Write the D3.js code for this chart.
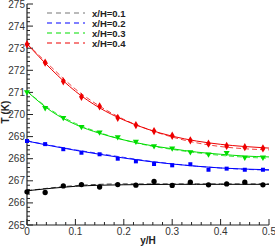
<!DOCTYPE html>
<html>
<head>
<meta charset="utf-8">
<script src="https://cdn.jsdelivr.net/npm/d3@7"></script>
<style>
  body { margin: 0; background: #fff; }
  text { font-family: "Liberation Sans", Arial, sans-serif; }
</style>
</head>
<body>
<div id="chart"></div>
<script>
// series labels and colours
var seriesNames = ["x/H=0.1", "x/H=0.2", "x/H=0.3", "x/H=0.4"];
var seriesColors = ["#000000", "#0000ff", "#00dd00", "#ee0000"];
var legendColors = ["#777777", "#0000ff", "#00dd00", "#ee0000"];

// measured points (symbols)
var markX = [0, 0.0375, 0.075, 0.1125, 0.15, 0.1875, 0.225, 0.2625, 0.3, 0.3375, 0.375, 0.4125, 0.45, 0.4875];
var mark01 = [266.5, 266.47, 266.77, 266.83, 266.72, 266.83, 266.8, 266.97, 266.79, 266.94, 266.82, 266.86, 266.94, 266.82];
var mark02 = [268.8, 268.66, 268.43, 268.27, 268.2, 268.0, 267.88, 267.76, 267.7, 267.75, 267.5, 267.55, 267.5, 267.5];
var mark03 = [271.02, 270.3, 269.85, 269.45, 269.2, 268.98, 268.78, 268.58, 268.47, 268.3, 268.2, 268.27, 268.05, 268.06];
var mark04 = [273.18, 272.35, 271.5, 270.8, 270.37, 269.85, 269.52, 269.25, 269.04, 268.83, 268.68, 268.58, 268.52, 268.47];

// curves: solid and dashed
var lineX = [0, 0.05, 0.1, 0.15, 0.2, 0.25, 0.3, 0.35, 0.4, 0.45, 0.5];
var solid01 = [266.55, 266.66, 266.75, 266.8, 266.82, 266.83, 266.84, 266.84, 266.84, 266.84, 266.84];
var dash01  = [266.55, 266.68, 266.78, 266.84, 266.86, 266.86, 266.86, 266.86, 266.86, 266.86, 266.86];
var solid02 = [268.8, 268.58, 268.38, 268.2, 268.03, 267.88, 267.76, 267.66, 267.58, 267.53, 267.5];
var dash02  = [268.8, 268.6, 268.4, 268.23, 268.06, 267.9, 267.77, 267.66, 267.58, 267.52, 267.48];
var solid03 = [271.05, 270.15, 269.55, 269.15, 268.85, 268.62, 268.45, 268.3, 268.2, 268.12, 268.08];
var dash03  = [271.05, 270.2, 269.6, 269.18, 268.85, 268.6, 268.42, 268.27, 268.15, 268.07, 268.02];
var solid04 = [273.2, 272.05, 271.05, 270.3, 269.75, 269.33, 269.02, 268.8, 268.65, 268.55, 268.48];
var dash04  = [273.2, 272.15, 271.15, 270.38, 269.78, 269.33, 268.98, 268.72, 268.55, 268.45, 268.4];

var xTicks = [0, 0.1, 0.2, 0.3, 0.4, 0.5];
var yTicks = [265, 266, 267, 268, 269, 270, 271, 272, 273, 274, 275];

var marks = [mark01, mark02, mark03, mark04];
var solids = [solid01, solid02, solid03, solid04];
var dashes = [dash01, dash02, dash03, dash04];
var symbols = [d3.symbolCircle, d3.symbolSquare, d3.symbolTriangle, d3.symbolDiamond];
var symSizes = [22, 16, 16, 20];

var width = 275, height = 246;
var x = d3.scaleLinear().domain([0, 0.5]).range([27, 269]);
var y = d3.scaleLinear().domain([265, 275]).range([225, 4]);

var svg = d3.select("#chart").append("svg")
  .attr("width", width).attr("height", height);

// axes
var axisColor = "#222";
svg.append("line").attr("x1", x(0)).attr("x2", x(0)).attr("y1", y(275)).attr("y2", y(265))
  .attr("stroke", axisColor).attr("stroke-width", 1.2);
svg.append("line").attr("x1", x(0)).attr("x2", x(0.5)).attr("y1", y(265)).attr("y2", y(265))
  .attr("stroke", axisColor).attr("stroke-width", 1.2);

// y ticks
d3.range(265, 275.01, 0.2).forEach(function(v) {
  var major = Math.abs(v - Math.round(v)) < 1e-6;
  svg.append("line")
    .attr("x1", x(0)).attr("x2", x(0) + (major ? 6 : 3))
    .attr("y1", y(v)).attr("y2", y(v))
    .attr("stroke", axisColor).attr("stroke-width", 1);
});
svg.selectAll("text.ytick").data(yTicks).enter().append("text")
  .attr("class", "ytick")
  .attr("x", 25).attr("y", function(d) { return y(d) + 3.5; })
  .attr("text-anchor", "end").attr("font-size", 10).attr("fill", "#333")
  .text(function(d) { return d; });

// x ticks
d3.range(0, 0.5001, 0.02).forEach(function(v) {
  var major = Math.abs(v * 10 - Math.round(v * 10)) < 1e-6;
  svg.append("line")
    .attr("x1", x(v)).attr("x2", x(v))
    .attr("y1", y(265)).attr("y2", y(265) - (major ? 6 : 3))
    .attr("stroke", axisColor).attr("stroke-width", 1);
});
svg.selectAll("text.xtick").data(xTicks).enter().append("text")
  .attr("class", "xtick")
  .attr("x", function(d) { return x(d); }).attr("y", 235)
  .attr("text-anchor", "middle").attr("font-size", 10).attr("fill", "#333")
  .text(function(d) { return d; });

// axis titles
svg.append("text").attr("x", x(0.25)).attr("y", 244)
  .attr("text-anchor", "middle").attr("font-size", 10).attr("font-weight", "bold").attr("fill", "#222")
  .text("y/H");
svg.append("text").attr("transform", "translate(9,112) rotate(-90)")
  .attr("text-anchor", "middle").attr("font-size", 10).attr("font-weight", "bold").attr("fill", "#222")
  .text("T (K)");

var line = d3.line()
  .x(function(d) { return x(d[0]); })
  .y(function(d) { return y(d[1]); })
  .curve(d3.curveMonotoneX);

seriesNames.forEach(function(name, k) {
  svg.append("path")
    .attr("d", line(d3.zip(lineX, dashes[k])))
    .attr("fill", "none").attr("stroke", seriesColors[k]).attr("stroke-width", 1)
    .attr("stroke-dasharray", "5,3").attr("opacity", 0.75);
  svg.append("path")
    .attr("d", line(d3.zip(lineX, solids[k])))
    .attr("fill", "none").attr("stroke", seriesColors[k]).attr("stroke-width", 1);
  svg.selectAll("path.m" + k).data(d3.zip(markX, marks[k])).enter().append("path")
    .attr("class", "m" + k)
    .attr("transform", function(d) {
      return "translate(" + x(d[0]) + "," + y(d[1]) + ")" + (k == 2 ? " rotate(180)" : "");
    })
    .attr("d", d3.symbol().type(symbols[k]).size(symSizes[k]))
    .attr("fill", seriesColors[k]);
});

// legend
seriesNames.forEach(function(name, k) {
  var ly = 13 + k * 10;
  svg.append("line").attr("x1", 47).attr("x2", 85).attr("y1", ly).attr("y2", ly)
    .attr("stroke", legendColors[k]).attr("stroke-width", 1.2).attr("stroke-dasharray", "5,4");
  svg.append("text").attr("x", 92).attr("y", ly + 3.5)
    .attr("font-size", 9.5).attr("font-weight", "bold").attr("fill", "#222")
    .text(name);
});
</script>
</body>
</html>
